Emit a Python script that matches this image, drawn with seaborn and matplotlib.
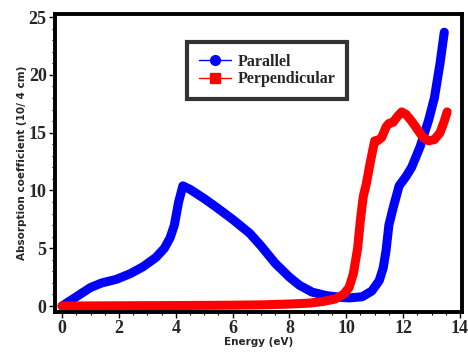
import matplotlib
matplotlib.use("Agg")
import matplotlib.pyplot as plt
from matplotlib.lines import Line2D
from matplotlib.ticker import MultipleLocator
import seaborn as sns
import pandas as pd

# Parallel polarisation
par_energy = [0, 0.5, 1.0, 1.4, 1.9, 2.4, 2.85, 3.3, 3.6, 3.8, 3.95, 4.1, 4.25, 4.5,
              5.0, 5.4, 6.0, 6.6, 7.0, 7.5, 8.0, 8.35, 8.8, 9.3, 9.8, 10.1, 10.56,
              10.9, 11.16, 11.3, 11.4, 11.5, 11.65, 11.86, 12.1, 12.3, 12.6, 12.9,
              13.1, 13.3, 13.45]
par_abs = [0, 0.8, 1.6, 2.0, 2.3, 2.8, 3.4, 4.2, 5.0, 5.9, 7.0, 9.0, 10.4, 10.1,
           9.3, 8.6, 7.5, 6.3, 5.2, 3.7, 2.5, 1.8, 1.2, 0.9, 0.75, 0.7, 0.8,
           1.3, 2.2, 3.3, 4.8, 7.0, 8.5, 10.4, 11.2, 12.0, 13.8, 16.1,
           18.0, 21.0, 23.7]

# Perpendicular polarisation
perp_energy = [0, 2, 4, 6, 7, 8, 8.7, 9.2, 9.6, 9.9, 10.1, 10.25, 10.4, 10.5, 10.6,
               10.7, 10.85, 11.0, 11.1, 11.25, 11.4, 11.5, 11.65, 11.8, 11.95, 12.1,
               12.3, 12.5, 12.7, 12.9, 13.1, 13.3, 13.45, 13.55]
perp_abs = [0, 0.02, 0.04, 0.07, 0.1, 0.17, 0.25, 0.4, 0.6, 1.0, 1.6, 2.8, 5.0, 7.5, 9.5,
            10.5, 12.5, 14.3, 14.3, 14.6, 15.5, 15.8, 15.9, 16.4, 16.8, 16.6,
            16.0, 15.3, 14.6, 14.3, 14.4, 15.0, 16.0, 16.8]

x_ticks = [0, 2, 4, 6, 8, 10, 12, 14]
y_ticks = [0, 5, 10, 15, 20, 25]

sns.set_style("ticks")
fig = plt.figure(figsize=(4.68, 3.54), dpi=100)
ax = fig.add_axes([0.1175, 0.1186, 0.8695, 0.8414])

df_par = pd.DataFrame({"E": par_energy, "A": par_abs})
df_perp = pd.DataFrame({"E": perp_energy, "A": perp_abs})

sns.lineplot(data=df_par, x="E", y="A", ax=ax, color="#0000ff", lw=6.5,
             solid_capstyle="round", solid_joinstyle="round", sort=False)
sns.lineplot(data=df_perp, x="E", y="A", ax=ax, color="#ff0000", lw=6.5,
             solid_capstyle="round", solid_joinstyle="round", sort=False)

ax.set_xlim(-0.25, 14.07)
ax.set_ylim(-0.52, 25.26)
ax.set_xticks(x_ticks)
ax.set_yticks(y_ticks)
ax.xaxis.set_minor_locator(MultipleLocator(0.5))
ax.yaxis.set_minor_locator(MultipleLocator(1))
ax.tick_params(which="major", direction="out", length=4, width=1, color="black", pad=2)
ax.tick_params(which="minor", direction="out", length=2, width=0.8, color="black")
for lab in ax.get_xticklabels() + ax.get_yticklabels():
    lab.set_family("Liberation Serif")
    lab.set_fontweight("bold")
    lab.set_fontsize(13)
for s in ax.spines.values():
    s.set_linewidth(2.8)
    s.set_color("black")

ax.set_xlabel("Energy (eV)", fontsize=7.5, fontweight="bold", family="DejaVu Sans", labelpad=0)
ax.set_ylabel("Absorption coefficient (10/ 4 cm)", fontsize=7.5, fontweight="bold",
              family="DejaVu Sans", labelpad=1)

handles = [
    Line2D([0], [0], color="#0000ff", marker="o", markersize=7, lw=1),
    Line2D([0], [0], color="#ff0000", marker="s", markersize=7, lw=1),
]
leg = ax.legend(handles, ["Parallel", "Perpendicular"], loc="upper left",
                bbox_to_anchor=(0.325, 0.908), frameon=True, fancybox=False,
                prop={"family": "Liberation Serif", "weight": "bold", "size": 11.5},
                handlelength=2.0, borderpad=0.75, labelspacing=0.1, handletextpad=0.4,
                borderaxespad=0)
leg.get_frame().set_edgecolor("black")
leg.get_frame().set_linewidth(3)

fig.savefig("out.png", dpi=100)
